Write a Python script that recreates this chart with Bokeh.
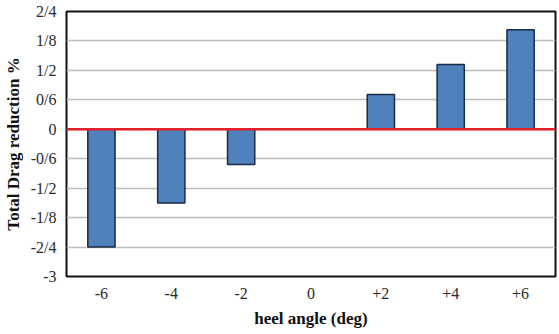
from bokeh.plotting import figure
from bokeh.models import FixedTicker, Span, ColumnDataSource, Range1d
from bokeh.embed import file_html
from bokeh.resources import INLINE

categories = ["-6", "-4", "-2", "0", "+2", "+4", "+6"]
drag_reduction = [-2.4, -1.5, -0.72, 0.0, 0.71, 1.32, 2.03]
y_ticks = [-3.0, -2.4, -1.8, -1.2, -0.6, 0.0, 0.6, 1.2, 1.8, 2.4]
y_tick_labels = ["-3", "-2/4", "-1/8", "-1/2", "-0/6", "0", "0/6", "1/2", "1/8", "2/4"]

src = ColumnDataSource(dict(x=categories, top=drag_reduction))

p = figure(width=559, height=334, x_range=categories, y_range=Range1d(-3, 2.4),
           output_backend="svg", toolbar_location=None,
           min_border_left=65, min_border_right=4, min_border_top=11, min_border_bottom=58)

p.vbar(x="x", top="top", bottom=0, width=0.39, source=src,
       fill_color="#4F81BD", line_color="#1B2A45", line_width=1.5)

p.add_layout(Span(location=0, dimension="width", line_color="#E3202A", line_width=2.5))

p.yaxis.ticker = FixedTicker(ticks=y_ticks)
p.yaxis.major_label_overrides = {t: l for t, l in zip(y_ticks, y_tick_labels)}
p.ygrid.ticker = FixedTicker(ticks=y_ticks)
p.ygrid.grid_line_color = "#BDBDBD"
p.ygrid.grid_line_width = 1.5
p.xgrid.grid_line_color = None

p.outline_line_color = "#111111"
p.outline_line_width = 2
p.outline_line_alpha = 1

for ax in (p.xaxis, p.yaxis):
    ax.axis_line_color = None
    ax.major_tick_line_color = None
    ax.minor_tick_line_color = None
    ax.major_tick_out = 0
    ax.major_tick_in = 0
    ax.minor_tick_out = 0
    ax.major_label_text_font = "Liberation Serif"
    ax.major_label_text_font_size = "16px"
    ax.major_label_text_color = "#2a2a2a"
    ax.axis_label_text_font = "Liberation Serif"
    ax.axis_label_text_font_style = "bold"
    ax.axis_label_text_font_size = "17px"
    ax.axis_label_text_color = "#111111"

p.xaxis.axis_label = "heel angle (deg)"
p.yaxis.axis_label = "Total Drag reduction %"
p.xaxis.major_label_standoff = 11
p.xaxis.axis_label_standoff = 7
p.yaxis.major_label_standoff = 10
p.yaxis.axis_label_standoff = 5

p.background_fill_color = "white"
p.border_fill_color = "white"

open("out.html", "w").write(file_html(p, INLINE))
